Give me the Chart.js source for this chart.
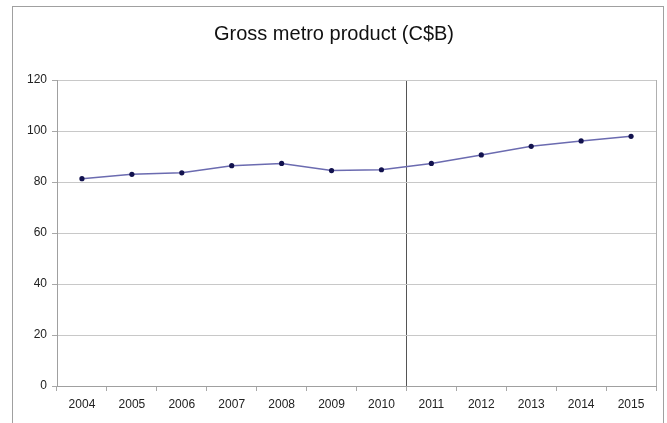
<!DOCTYPE html>
<html>
<head>
<meta charset="utf-8">
<title>Gross metro product</title>
<script src="https://cdn.jsdelivr.net/npm/chart.js@4.4.1/dist/chart.umd.min.js"></script>
<style>
  html, body { margin: 0; padding: 0; background: #fff; }
  #wrap { width: 667px; height: 423px; position: relative; }
</style>
</head>
<body>
<div id="wrap"><canvas id="gmp"></canvas></div>
<script>
const years = ["2004", "2005", "2006", "2007", "2008", "2009", "2010", "2011", "2012", "2013", "2014", "2015"];
const gmpValues = [81.3, 83.0, 83.6, 86.4, 87.3, 84.5, 84.8, 87.3, 90.6, 94.0, 96.1, 97.9];
const yTicks = [0, 20, 40, 60, 80, 100, 120];
// forecast years start here, a dark divider goes on the boundary before it
const forecastStart = years.indexOf("2011");

// grey frame around the whole chart
const frame = {
  id: "frame",
  beforeDraw(chart) {
    const c = chart.ctx;
    c.save();
    c.fillStyle = "#fff";
    c.fillRect(0, 0, chart.width, chart.height);
    c.strokeStyle = "#a0a0a0";
    c.lineWidth = 1;
    c.strokeRect(12.5, 6.5, 651, chart.height + 10);
    c.restore();
  }
};

const labelFont = { family: "Liberation Sans, Arial, sans-serif", size: 12 };

new Chart(document.getElementById("gmp"), {
  type: "line",
  data: {
    labels: years,
    datasets: [{
      label: "Gross metro product",
      data: gmpValues,
      borderColor: "#6b6bb0",
      borderWidth: 1.5,
      tension: 0,
      pointRadius: 2.6,
      pointBackgroundColor: "#12124e",
      pointBorderColor: "#12124e",
      pointBorderWidth: 0
    }]
  },
  options: {
    responsive: true,
    maintainAspectRatio: false,
    animation: false,
    layout: { padding: { left: 12, right: 11, top: 6, bottom: 9 } },
    plugins: {
      legend: { display: false },
      tooltip: { enabled: false },
      title: {
        display: true,
        text: "Gross metro product (C$B)",
        color: "#111",
        font: { family: "Liberation Sans, Arial, sans-serif", size: 20, weight: "normal" },
        padding: { top: 16, bottom: 34 }
      }
    },
    scales: {
      x: {
        offset: true,
        grid: {
          offset: true,
          drawOnChartArea: true,
          tickLength: 5,
          tickColor: "#a8a8a8",
          color: ctx => {
            if (ctx.index === forecastStart) return "#555";
            if (ctx.index === undefined) return "#b0b0b0";
            return "rgba(0,0,0,0)";
          }
        },
        border: { color: "#a0a0a0" },
        ticks: {
          color: "#222",
          font: labelFont,
          padding: 6,
          maxRotation: 0
        },
        afterFit: s => { s.height = 28; }
      },
      y: {
        min: 0,
        max: 120,
        afterBuildTicks: s => { s.ticks = yTicks.map(v => ({ value: v })); },
        grid: {
          color: "#c8c8c8",
          tickColor: "#a8a8a8",
          tickLength: 5
        },
        border: { color: "#a0a0a0" },
        ticks: {
          color: "#222",
          font: labelFont,
          padding: 5
        },
        afterFit: s => { s.width = 45; }
      }
    }
  },
  plugins: [frame]
});
</script>
</body>
</html>
